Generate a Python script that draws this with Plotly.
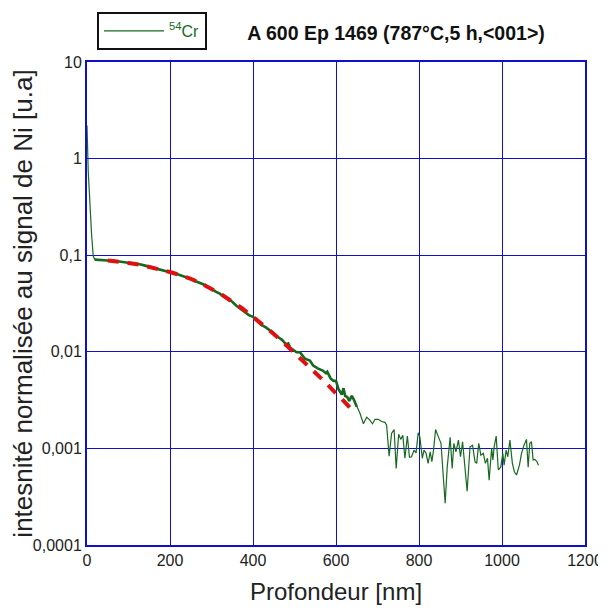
import plotly.graph_objects as go

# 54Cr depth profile (nm, normalised intensity)
depth_cr = [0, 3, 11, 15, 19, 30, 40, 50, 60, 70, 80, 90, 100, 110, 120, 130, 140, 150,
            160, 170, 180, 190, 200, 210, 220, 230, 240, 250, 260, 270, 280, 290, 300,
            310, 320, 330, 340, 350, 360, 370, 380, 390, 400, 410, 420, 430, 440, 450,
            460, 470, 480, 485, 490, 500, 505, 513, 525, 537, 545, 557, 568, 576, 579,
            587, 594, 600, 606, 614, 618, 622, 627, 632, 638, 643, 650, 658, 666, 674,
            680, 688, 694, 702, 710, 718, 722, 728, 734, 740, 745, 751, 756, 761, 766,
            772, 777, 782, 788, 793, 798, 802, 808, 812, 817, 822, 827, 831, 835, 840,
            846, 853, 863, 868, 875, 880, 884, 889, 895, 900, 905, 911, 916, 923, 929,
            935, 939, 944, 949, 955, 960, 965, 969, 975, 978, 981, 986, 991, 997, 1002,
            1005, 1010, 1014, 1019, 1025, 1030, 1035, 1042, 1047, 1053, 1059, 1063, 1067,
            1071, 1075, 1079, 1084, 1088]
cr54 = [2.2, 0.74, 0.165, 0.098, 0.090, 0.089, 0.089, 0.088, 0.088, 0.087, 0.086, 0.085,
        0.084, 0.083, 0.081, 0.080, 0.078, 0.076, 0.075, 0.073, 0.071, 0.069, 0.067,
        0.065, 0.063, 0.061, 0.059, 0.057, 0.054, 0.052, 0.050, 0.047, 0.045, 0.042,
        0.040, 0.037, 0.035, 0.033, 0.030, 0.028, 0.026, 0.024, 0.023, 0.021, 0.019,
        0.018, 0.0168, 0.0156, 0.0142, 0.0133, 0.0119, 0.0122, 0.0110, 0.0103, 0.0099,
        0.0099, 0.0085, 0.0081, 0.0072, 0.0067, 0.0064, 0.0060, 0.0062, 0.0053, 0.0050,
        0.0050, 0.0041, 0.0036, 0.0042, 0.0035, 0.0034, 0.0031, 0.0035, 0.0032, 0.0027,
        0.0023, 0.0018, 0.0021, 0.0020, 0.0018, 0.0020, 0.0020, 0.0019, 0.00186, 0.00174,
        0.00083, 0.00143, 0.00157, 0.00062, 0.00140, 0.00124, 0.00137, 0.00079, 0.00134,
        0.00081, 0.00082, 0.00096, 0.00090, 0.00145, 0.00132, 0.00079, 0.00096, 0.00089,
        0.00070, 0.00092, 0.00073, 0.00096, 0.00157, 0.00134, 0.00113, 0.00027, 0.00064,
        0.00130, 0.00062, 0.00113, 0.00092, 0.00122, 0.00082, 0.00117, 0.00060, 0.00036,
        0.00104, 0.00108, 0.00073, 0.00070, 0.00113, 0.00085, 0.00089, 0.00070, 0.00079,
        0.00047, 0.00100, 0.00076, 0.00103, 0.00134, 0.00060, 0.00064, 0.00089, 0.00067,
        0.00096, 0.00082, 0.00122, 0.00070, 0.00057, 0.00053, 0.00067, 0.00089, 0.00108,
        0.00124, 0.00064, 0.00113, 0.00117, 0.00076, 0.00077, 0.00073, 0.00067]

# fitted profile (red dashed)
depth_fit = [50, 75, 100, 125, 150, 175, 200, 225, 250, 275, 300, 325, 350, 375, 400,
             425, 450, 475, 500, 525, 550, 575, 600, 610, 635]
fit = [0.088, 0.086, 0.083, 0.080, 0.076, 0.072, 0.067, 0.062, 0.057, 0.051, 0.045,
       0.039, 0.033, 0.028, 0.023, 0.019, 0.0153, 0.0123, 0.0098, 0.0078, 0.0062,
       0.0048, 0.0037, 0.0034, 0.0026]

x_ticks = [0, 200, 400, 600, 800, 1000, 1200]
y_ticks = [1e-4, 1e-3, 1e-2, 1e-1, 1, 10]
y_ticktext = ["0,0001", "0,001", "0,01", "0,1", "1", "10"]

GREEN = "#17691f"
BLUE = "#1010cc"

# the page places the figure 8 px from the top-left corner
W, H, OFF = 598, 602, 8
ML, MR, MT, MB = 79, 21, 54, 65
PW, PH = W - ML - MR, H - MT - MB

fig = go.Figure()
fig.add_trace(go.Scatter(x=depth_cr, y=cr54, mode="lines", name="<sup>54</sup>Cr",
                         line=dict(color=GREEN, width=1.2)))
# denser, thicker part of the profile
i0, i1 = 4, depth_cr.index(650) + 1
fig.add_trace(go.Scatter(x=depth_cr[i0:i1], y=cr54[i0:i1], mode="lines", showlegend=False,
                         line=dict(color=GREEN, width=2.6)))
fig.add_trace(go.Scatter(x=depth_fit, y=fit, mode="lines", showlegend=False,
                         line=dict(color="#e01010", width=4, dash="11px,9px")))

fig.update_layout(
    width=W, height=H,
    margin=dict(l=ML, r=MR, t=MT, b=MB, autoexpand=False),
    paper_bgcolor="white", plot_bgcolor="white",
    font=dict(family="Arial, Liberation Sans, sans-serif", color="#222", size=16),
    title=dict(text="<b>A 600 Ep 1469 (787°C,5 h,&lt;001&gt;)</b>",
               x=(396 - OFF) / W, xref="container", xanchor="center",
               y=1 - (33 - OFF) / H, yref="container", yanchor="middle",
               font=dict(size=19.5, color="#111")),
    showlegend=True,
    legend=dict(x=(97 - OFF - ML) / PW, y=1 + (MT - (12 - OFF)) / PH,
                xanchor="left", yanchor="top", itemwidth=60,
                bordercolor="#111", borderwidth=2, bgcolor="white",
                font=dict(color=GREEN, size=16)),
    xaxis=dict(range=[0, 1200], tickvals=x_ticks, showgrid=True, gridcolor=BLUE,
               gridwidth=1, showline=True, linecolor=BLUE, linewidth=2, mirror=True,
               ticks="inside", ticklen=4, tickcolor=BLUE, zeroline=False,
               automargin=False,
               title=dict(text="Profondeur [nm]", font=dict(size=24))),
    yaxis=dict(type="log", range=[-4, 1], tickvals=y_ticks, ticktext=y_ticktext,
               showgrid=True, gridcolor=BLUE, gridwidth=1, showline=True,
               linecolor=BLUE, linewidth=2, mirror=True, ticks="inside", ticklen=4,
               tickcolor=BLUE, zeroline=False, automargin=False,
               title=dict(text="intesnité normalisée au signal de Ni [u.a]",
                          font=dict(size=26))),
)

fig.write_html("out.html")
